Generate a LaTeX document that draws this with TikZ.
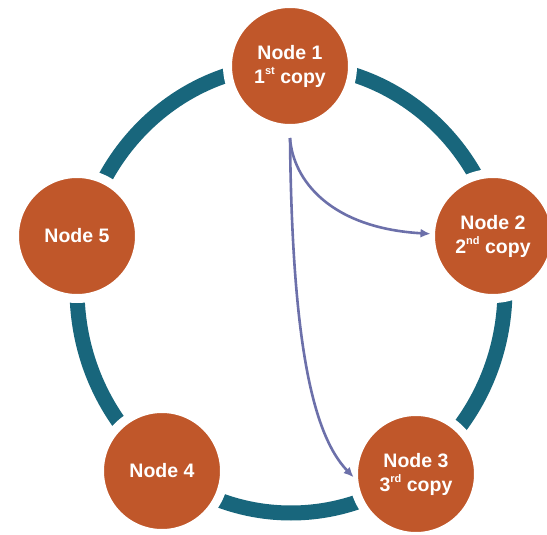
\documentclass[tikz,border=0pt]{standalone}
\usepackage{fontspec}
\setmainfont{Liberation Sans}
\usetikzlibrary{arrows.meta}
\definecolor{ringcol}{RGB}{24,102,124}
\definecolor{nodecol}{RGB}{192,87,42}
\definecolor{arrcol}{RGB}{108,112,170}
\newcommand\supx[1]{\raisebox{0.42em}{\fontsize{11}{11}\selectfont #1}}
\begin{document}
\begin{tikzpicture}[x=1pt,y=-1pt,
  ring/.style={draw=ringcol,line width=15pt},
  peer/.style={circle,fill=nodecol,draw=white,line width=9pt,minimum size=125pt,
    inner sep=0pt,outer sep=0pt,text=white,align=center,
    font=\fontsize{19.5}{24}\selectfont\bfseries},
  link/.style={draw=arrcol,line width=2.6pt,-{Latex[length=10pt,width=9pt]}}]
\useasboundingbox (0,0) rectangle (547,535);
\fill[white] (0,0) rectangle (547,535);
\draw[ring] (291,289) ellipse [x radius=214pt, y radius=224pt];
\node[peer] (n1) at (290,66) {Node 1\\1\supx{st} copy};
\node[peer] (n2) at (493,236) {Node 2\\2\supx{nd} copy};
\node[peer] (n3) at (416,474) {Node 3\\3\supx{rd} copy};
\node[peer] (n4) at (162,471) {Node 4};
\node[peer] (n5) at (77,236) {Node 5};
\coordinate (src) at (290,138);
\draw[link] (src) .. controls (293,180) and (330,228) .. (n2.178);
\draw[link] (src) .. controls (292,330) and (310,432) .. (n3.183);
\end{tikzpicture}
\end{document}
